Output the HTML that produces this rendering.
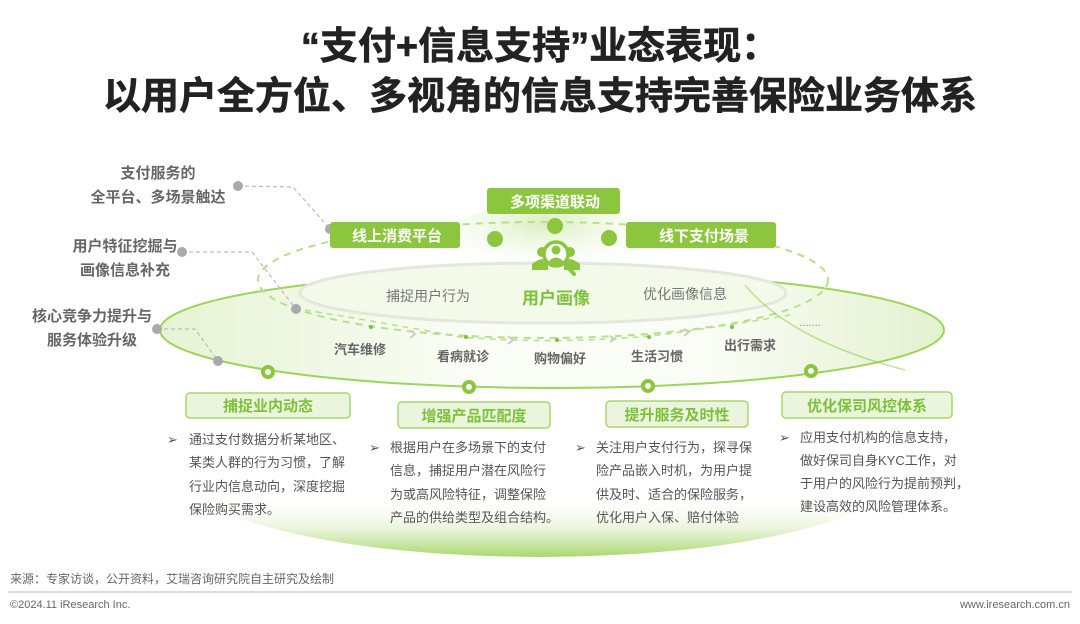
<!DOCTYPE html>
<html><head><meta charset="utf-8"><style>
html,body{margin:0;padding:0;background:#fff;}
body{width:1080px;height:619px;overflow:hidden;font-family:"Liberation Sans","Noto Sans CJK SC",sans-serif;}
</style></head><body>
<svg width="1080" height="619" viewBox="0 0 1080 619" xmlns="http://www.w3.org/2000/svg" font-family="Liberation Sans, Noto Sans CJK SC, sans-serif">
<defs>
<linearGradient id="bowl" x1="0" y1="0" x2="0" y2="1">
<stop offset="0" stop-color="#fff" stop-opacity="0"/>
<stop offset="0.55" stop-color="#fff" stop-opacity="0"/>
<stop offset="0.8" stop-color="#e6f3d4" stop-opacity="0.9"/>
<stop offset="1" stop-color="#a9d86e"/>
</linearGradient>
<linearGradient id="big" x1="0" y1="0" x2="1" y2="0">
<stop offset="0" stop-color="#e6f3d4"/>
<stop offset="0.4" stop-color="#fafdf6"/>
<stop offset="0.7" stop-color="#fafdf6"/>
<stop offset="1" stop-color="#e3f1cf"/>
</linearGradient>
<radialGradient id="glow" cx="0.5" cy="0.2" r="0.6">
<stop offset="0" stop-color="#d9eebd"/>
<stop offset="1" stop-color="#fff" stop-opacity="0"/>
</radialGradient>
</defs>
<text x="540" y="59" text-anchor="middle" font-size="38" font-weight="bold" fill="#222" stroke="#222" stroke-width="0.6">“支付+信息支持”业态表现：</text>
<text x="540" y="109" text-anchor="middle" font-size="38" font-weight="bold" fill="#222" stroke="#222" stroke-width="0.6">以用户全方位、多视角的信息支持完善保险业务体系</text>

<!-- bowl -->
<path d="M100 420 Q540 470 980 420 Q900 555 540 557 Q180 555 100 420Z" fill="url(#bowl)"/>
<!-- big ellipse -->
<ellipse cx="552" cy="330" rx="392" ry="58" fill="url(#big)" stroke="#9dd45a" stroke-width="2"/>
<ellipse cx="545" cy="250" rx="120" ry="45" fill="url(#glow)"/>
<!-- dashed -->
<ellipse cx="543" cy="280" rx="285" ry="58" fill="none" stroke="#b7e08a" stroke-width="2" stroke-dasharray="7,6"/>
<!-- inner -->
<ellipse cx="543" cy="293" rx="243" ry="30" fill="#f3faea" stroke="#e3e8dc" stroke-width="3"/>
<path d="M745 285 Q790 340 905 370" fill="none" stroke="#8cc63f" stroke-width="1.5" opacity="0.5"/>

<!-- gray connectors -->
<g stroke="#bbb" stroke-width="1.2" stroke-dasharray="4,3" fill="none">
<polyline points="238,186 293,187 330,229"/>
<polyline points="182,252 252,252 296,309"/>
<polyline points="157,329 195,329 218,361"/>
</g>
<g fill="#aaa"><circle cx="238" cy="186" r="5"/><circle cx="330" cy="229" r="5"/><circle cx="182" cy="252" r="5"/><circle cx="296" cy="309" r="5"/><circle cx="157" cy="329" r="5"/><circle cx="218" cy="361" r="5"/></g>
<g font-size="15" font-weight="bold" fill="#666" text-anchor="middle">
<text x="158" y="178">支付服务的</text><text x="158" y="202">全平台、多场景触达</text>
<text x="125" y="251">用户特征挖掘与</text><text x="125" y="275">画像信息补充</text>
<text x="92" y="321">核心竞争力提升与</text><text x="92" y="345">服务体验升级</text>
</g>

<!-- top labels -->
<g fill="#8cc63f">
<rect x="330" y="222" width="130" height="26" rx="3"/>
<rect x="487" y="188" width="133" height="26" rx="3"/>
<rect x="626" y="222" width="150" height="26" rx="3"/>
<circle cx="495" cy="239" r="8"/><circle cx="555" cy="226" r="8"/><circle cx="609" cy="238" r="8"/>
</g>
<g font-size="15" font-weight="bold" fill="#fff" text-anchor="middle">
<text x="397" y="241">线上消费平台</text><text x="555" y="207">多项渠道联动</text><text x="704" y="241">线下支付场景</text>
</g>
<!-- icon -->
<g fill="#8cc63f">
<circle cx="542" cy="252" r="5"/><path d="M532 270 v-6 q10-8 16 -3 v9z"/>
<circle cx="570" cy="252" r="5"/><path d="M580 270 v-6 q-10-8 -16 -3 v9z"/>
<circle cx="556" cy="254" r="12" fill="#fff" stroke="#8cc63f" stroke-width="3.5"/>
<circle cx="556" cy="250" r="4.5"/><path d="M548 262 q8-9 16 0 q-8 5 -16 0z"/>
<line x1="564" y1="263" x2="574" y2="274" stroke="#8cc63f" stroke-width="4" stroke-linecap="round"/>
</g>
<text x="428" y="301" font-size="14" fill="#777" text-anchor="middle">捕捉用户行为</text>
<text x="556" y="304" font-size="17" font-weight="bold" fill="#7cc13a" text-anchor="middle">用户画像</text>
<text x="685" y="299" font-size="14" fill="#777" text-anchor="middle">优化画像信息</text>

<!-- scenes path -->
<path d="M305 310 Q380 322 460 337 Q560 345 660 335 Q730 325 790 315" fill="none" stroke="#b7e08a" stroke-width="1.5" stroke-dasharray="6,5"/>
<g fill="#7cc13a"><circle cx="371" cy="327" r="2"/><circle cx="466" cy="337" r="2"/><circle cx="557" cy="340" r="2"/><circle cx="649" cy="337" r="2"/><circle cx="732" cy="327" r="2"/></g>
<g stroke="#ccc" stroke-width="2" fill="none"><polyline points="410,330 415,334 410,338"/><polyline points="508,336 513,340 508,344"/><polyline points="610,336 615,339 610,342"/><polyline points="684,329 689,332 684,336"/></g>
<g font-size="13" font-weight="bold" fill="#666" text-anchor="middle">
<text x="360" y="354">汽车维修</text><text x="463" y="361">看病就诊</text><text x="560" y="363">购物偏好</text><text x="657" y="361">生活习惯</text><text x="750" y="350">出行需求</text>
</g>
<text x="810" y="326" font-size="11" fill="#888" text-anchor="middle">.......</text>

<!-- ring markers -->
<g fill="#fff" stroke="#8cc63f" stroke-width="4"><circle cx="268" cy="372" r="5"/><circle cx="469" cy="387" r="5"/><circle cx="648" cy="386" r="5"/><circle cx="811" cy="371" r="5"/></g>

<!-- bottom boxes -->
<g fill="#ebf5de" stroke="#a8d66a" stroke-width="1.5">
<rect x="186" y="393" width="164" height="25" rx="4"/>
<rect x="398" y="402" width="152" height="26" rx="4"/>
<rect x="606" y="401" width="142" height="26" rx="4"/>
<rect x="782" y="392" width="170" height="26" rx="4"/>
</g>
<g font-size="15" font-weight="bold" fill="#7cc13a" text-anchor="middle">
<text x="268" y="411">捕捉业内动态</text><text x="474" y="421">增强产品匹配度</text><text x="677" y="420">提升服务及时性</text><text x="867" y="411">优化保司风控体系</text>
</g>
<g font-size="13" fill="#555">
<text x="167" y="444">➢</text>
<text x="189" y="444">通过支付数据分析某地区、</text><text x="189" y="467">某类人群的行为习惯，了解</text><text x="189" y="491">行业内信息动向，深度挖掘</text><text x="189" y="514">保险购买需求。</text>
<text x="369" y="452">➢</text>
<text x="390" y="452">根据用户在多场景下的支付</text><text x="390" y="475">信息，捕捉用户潜在风险行</text><text x="390" y="499">为或高风险特征，调整保险</text><text x="390" y="522">产品的供给类型及组合结构。</text>
<text x="575" y="452">➢</text>
<text x="596" y="452">关注用户支付行为，探寻保</text><text x="596" y="475">险产品嵌入时机，为用户提</text><text x="596" y="499">供及时、适合的保险服务，</text><text x="596" y="522">优化用户入保、赔付体验</text>
<text x="779" y="442">➢</text>
<text x="800" y="442">应用支付机构的信息支持，</text><text x="800" y="465">做好保司自身KYC工作，对</text><text x="800" y="488">于用户的风险行为提前预判，</text><text x="800" y="511">建设高效的风险管理体系。</text>
</g>

<!-- footer -->
<text x="10" y="583" font-size="12" fill="#666">来源：专家访谈，公开资料，艾瑞咨询研究院自主研究及绘制</text>
<line x1="8" y1="592" x2="1072" y2="592" stroke="#bbb" stroke-width="1"/>
<text x="10" y="608" font-size="11" fill="#666">©2024.11 iResearch Inc.</text>
<text x="1070" y="608" font-size="11" fill="#666" text-anchor="end">www.iresearch.com.cn</text>
</svg>
</body></html>
